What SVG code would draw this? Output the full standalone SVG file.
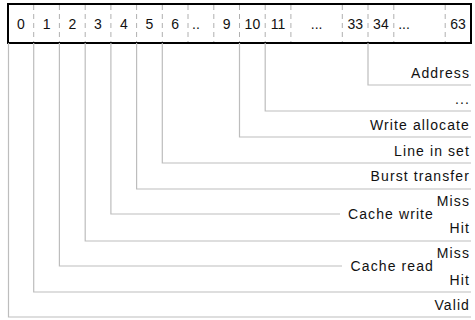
<svg xmlns="http://www.w3.org/2000/svg" width="475" height="320" viewBox="0 0 475 320">
  <style>
    .box { fill: #fff; stroke: #000; stroke-width: 2; }
    .sep { stroke: #b0b0b0; stroke-width: 1; stroke-dasharray: 5 4; }
    .bit { font-family: "Liberation Sans", Arial, sans-serif; font-size: 14px; fill: #111; text-anchor: middle; }
    .wire { fill: none; stroke: #bdbdbd; stroke-width: 1.2; }
    .lbl { font-family: "Liberation Sans", Arial, sans-serif; font-size: 14px; letter-spacing: 1.1px; fill: #111; text-anchor: end; }
  </style>
  <rect width="475" height="320" fill="#fff"/>

  <!-- 64-bit register with numbered cells -->
  <g id="register">
    <rect class="box" x="8" y="4" width="463" height="39"/>
    <g class="sep">
      <line x1="33.7" y1="5" x2="33.7" y2="42"/>
      <line x1="59.4" y1="5" x2="59.4" y2="42"/>
      <line x1="85.2" y1="5" x2="85.2" y2="42"/>
      <line x1="110.9" y1="5" x2="110.9" y2="42"/>
      <line x1="136.6" y1="5" x2="136.6" y2="42"/>
      <line x1="162.3" y1="5" x2="162.3" y2="42"/>
      <line x1="188" y1="5" x2="188" y2="42"/>
      <line x1="213.8" y1="5" x2="213.8" y2="42"/>
      <line x1="239.5" y1="5" x2="239.5" y2="42"/>
      <line x1="265.2" y1="5" x2="265.2" y2="42"/>
      <line x1="290.9" y1="5" x2="290.9" y2="42"/>
      <line x1="342.3" y1="5" x2="342.3" y2="42"/>
      <line x1="368" y1="5" x2="368" y2="42"/>
      <line x1="393.8" y1="5" x2="393.8" y2="42"/>
      <line x1="445.2" y1="5" x2="445.2" y2="42"/>
    </g>
    <g class="bit">
      <text x="21" y="28.5">0</text>
      <text x="46.6" y="28.5">1</text>
      <text x="72.3" y="28.5">2</text>
      <text x="98" y="28.5">3</text>
      <text x="123.8" y="28.5">4</text>
      <text x="149.5" y="28.5">5</text>
      <text x="175.2" y="28.5">6</text>
      <text x="196" y="28.5">..</text>
      <text x="226.7" y="28.5">9</text>
      <text x="252.4" y="28.5">10</text>
      <text x="278.1" y="28.5">11</text>
      <text x="316.6" y="28.5">...</text>
      <text x="355.2" y="28.5">33</text>
      <text x="380.9" y="28.5">34</text>
      <text x="404" y="28.5">...</text>
      <text x="458" y="28.5">63</text>
    </g>
  </g>

  <!-- leader lines from each field down and across to its label -->
  <g id="connectors" class="wire">
    <path d="M8.5 43 V317 H471"/>
    <path d="M33.7 43 V292 H471"/>
    <path d="M59.4 43 V266 H342"/>
    <path d="M85.2 43 V241 H471"/>
    <path d="M110.9 43 V214 H340"/>
    <path d="M136.6 43 V189 H471"/>
    <path d="M162.3 43 V163 H471"/>
    <path d="M239.5 43 V137 H471"/>
    <path d="M265.2 43 V111 H471"/>
    <path d="M368 43 V85 H471"/>
  </g>

  <g id="address"><text class="lbl" x="470" y="78">Address</text></g>
  <g id="reserved"><text class="lbl" x="470" y="104">...</text></g>
  <g id="write-allocate"><text class="lbl" x="470" y="130">Write allocate</text></g>
  <g id="line-in-set"><text class="lbl" x="470" y="156">Line in set</text></g>
  <g id="burst-transfer"><text class="lbl" x="470" y="181">Burst transfer</text></g>
  <g id="cache-write">
    <text class="lbl" x="470" y="206">Miss</text>
    <text class="lbl" x="434" y="219">Cache write</text>
    <text class="lbl" x="470" y="233">Hit</text>
  </g>
  <g id="cache-read">
    <text class="lbl" x="470" y="258">Miss</text>
    <text class="lbl" x="434" y="271">Cache read</text>
    <text class="lbl" x="470" y="285">Hit</text>
  </g>
  <g id="valid"><text class="lbl" x="470" y="310">Valid</text></g>
</svg>
